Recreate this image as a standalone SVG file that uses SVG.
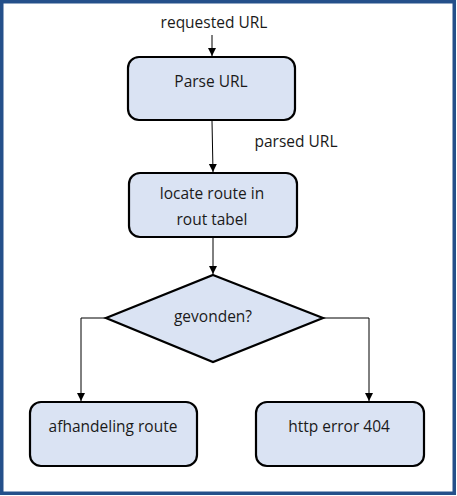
<svg xmlns="http://www.w3.org/2000/svg" width="457" height="496" viewBox="0 0 457 496">
<defs>
<marker id="ah" markerWidth="8" markerHeight="10" refX="8" refY="4" orient="auto" markerUnits="userSpaceOnUse" viewBox="0 0 8 8">
<path d="M0,0 L8,4 L0,8 Z" fill="#000"/>
</marker>
<style>
.box{fill:#DAE3F3;stroke:#000;stroke-width:2.2}
.t{font-family:"Open Sans","Liberation Sans",Arial,sans-serif;font-size:15.5px;fill:#1a1a1a;text-anchor:middle}
.c{fill:none;stroke:#000;stroke-width:1;marker-end:url(#ah)}
</style>
</defs>
<rect x="0" y="0" width="457" height="496" fill="#fff"/>
<rect x="1.75" y="1.75" width="452.5" height="491.5" fill="none" stroke="#24508A" stroke-width="3.5"/>
<text class="t" x="214" y="28">requested URL</text>
<text class="t" x="296" y="147">parsed URL</text>
<g id="connectors">
<path class="c" d="M212,35 L212,56"/>
<path class="c" d="M212,121 L213,172"/>
<path class="c" d="M213,238 L213,274"/>
<path class="c" d="M106,318 L81,318 L81,401"/>
<path class="c" d="M323,318 L369,318 L369,401"/>
</g>
<g id="parse">
<rect class="box" x="128" y="57" width="167" height="63" rx="11"/>
<text class="t" x="211" y="87">Parse URL</text>
</g>
<g id="locate">
<rect class="box" x="129" y="173" width="168" height="64" rx="11"/>
<text class="t" x="212" y="199">locate route in</text>
<text class="t" x="212" y="225">rout tabel</text>
</g>
<g id="gevonden">
<path class="box" d="M213,275 L323,318 L213,362 L106,318 Z"/>
<text class="t" x="213" y="322">gevonden?</text>
</g>
<g id="afhandeling">
<rect class="box" x="30" y="402" width="167" height="64" rx="11"/>
<text class="t" x="113" y="432">afhandeling route</text>
</g>
<g id="error">
<rect class="box" x="256" y="402" width="168" height="64" rx="11"/>
<text class="t" x="339" y="432">http error 404</text>
</g>
</svg>
